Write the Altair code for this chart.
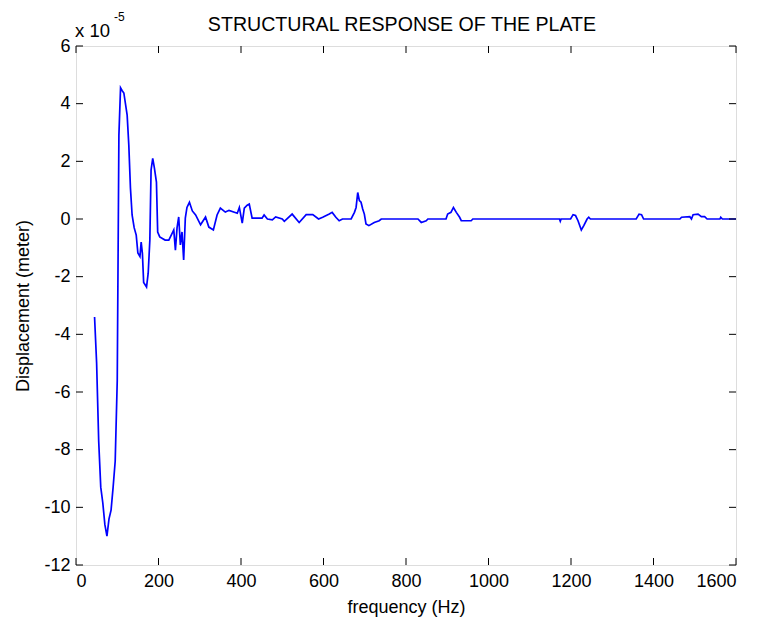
import altair as alt
import pandas as pd

# frequency (Hz) and displacement (x 1e-5 m)
freq = [45, 50, 55, 60, 65, 70, 75, 80, 85, 90, 95, 100, 104, 108, 112, 116, 124, 128,
        132, 136, 141, 146, 150, 155, 158, 161, 164, 171, 175, 179, 182, 186, 190, 195,
        198, 203, 216, 225, 233, 237, 241, 245, 249, 253, 257, 261, 265, 269, 275, 282,
        290, 302, 314, 322, 333, 342, 350, 362, 371, 391, 396, 403, 408, 415, 420, 427,
        451, 456, 464, 476, 484, 500, 505, 524, 541, 558, 574, 588, 598, 614, 621, 630,
        638, 646, 667, 675, 679, 683, 687, 691, 695, 699, 703, 710, 723, 735, 740, 829,
        837, 849, 853, 897, 901, 909, 915, 922, 930, 934, 958, 962, 1172, 1174, 1176,
        1199, 1205, 1211, 1217, 1225, 1231, 1239, 1243, 1247, 1358, 1365, 1371, 1376,
        1464, 1468, 1488, 1492, 1496, 1508, 1516, 1524, 1530, 1561, 1563, 1567, 1600]
disp = [-3.4, -5.0, -7.7, -9.3, -9.85, -10.6, -11.0, -10.4, -10.1, -9.3, -8.4, -5.6, 2.9,
        4.55, 4.45, 4.37, 3.6, 2.57, 1.07, 0.14, -0.3, -0.56, -1.18, -1.3, -0.8, -1.2,
        -2.2, -2.36, -1.88, -0.74, 1.7, 2.1, 1.77, 1.28, -0.45, -0.62, -0.73, -0.73,
        -0.5, -0.38, -1.08, -0.3, 0.07, -0.9, -0.45, -1.42, 0.03, 0.4, 0.58, 0.28, 0.14,
        -0.2, 0.07, -0.28, -0.38, 0.14, 0.38, 0.24, 0.3, 0.2, 0.4, -0.14, 0.38, 0.48,
        0.52, 0.03, 0.03, 0.14, 0.0, -0.03, 0.07, 0.0, -0.08, 0.17, -0.12, 0.15, 0.15,
        0.0, 0.06, 0.17, 0.23, 0.06, -0.06, 0.0, 0.0, 0.23, 0.4, 0.92, 0.64, 0.58, 0.35,
        0.17, -0.17, -0.23, -0.12, -0.06, 0.0, 0.0, -0.12, -0.06, 0.0, 0.0, 0.17, 0.23,
        0.4, 0.23, 0.06, -0.06, -0.06, 0.0, 0.0, -0.08, 0.0, 0.0, 0.15, 0.12, -0.06,
        -0.38, -0.23, 0.0, 0.06, 0.0, 0.0, 0.17, 0.15, 0.0, 0.0, 0.06, 0.08, 0.0, 0.15,
        0.17, 0.08, 0.08, 0.0, 0.0, 0.06, 0.0, 0.0]

x_ticks = [0, 200, 400, 600, 800, 1000, 1200, 1400, 1600]
y_ticks = [-12, -10, -8, -6, -4, -2, 0, 2, 4, 6]

title_text = ["STRUCTURAL RESPONSE OF THE PLATE"]
x_title = "frequency (Hz)"
y_title = "Displacement (meter)"
exp_base = ["x 10"]
exp_power = ["-5"]

W, H = 660, 519
FONT = "Liberation Sans"
LABEL_EXPR = "datum.value < 0 ? '-' + abs(datum.value) : '' + datum.value"

df = pd.DataFrame({"freq": freq, "disp": disp, "idx": list(range(len(freq)))})
xt = pd.DataFrame({"freq": x_ticks})
yt = pd.DataFrame({"disp": y_ticks})

xscale = alt.Scale(domain=[0, 1600], nice=False, zero=False)
yscale = alt.Scale(domain=[-12, 6], nice=False, zero=False)

x_axis = alt.Axis(values=x_ticks, title=x_title, ticks=False, domain=False,
                  grid=False, labelPadding=7, titlePadding=8, labelExpr=LABEL_EXPR,
                  labelFontSize=18, titleFontSize=18, labelFont=FONT,
                  titleFont=FONT, titleFontWeight="normal",
                  labelColor="black", titleColor="black")
y_axis = alt.Axis(values=y_ticks, title=y_title, ticks=False, domain=False,
                  grid=False, labelPadding=6, titlePadding=11, labelExpr=LABEL_EXPR,
                  labelFontSize=18, titleFontSize=18, labelFont=FONT,
                  titleFont=FONT, titleFontWeight="normal",
                  labelColor="black", titleColor="black")

line = alt.Chart(df).mark_line(color="#0000FF", strokeWidth=1.7).encode(
    x=alt.X("freq:Q", scale=xscale, axis=x_axis),
    y=alt.Y("disp:Q", scale=yscale, axis=y_axis),
    order="idx:Q",
)

tick_len = 7
bottom_ticks = alt.Chart(xt).mark_rule(color="black", strokeWidth=1).encode(
    x=alt.X("freq:Q", scale=xscale, axis=x_axis), y=alt.value(H), y2=alt.value(H - tick_len))
top_ticks = alt.Chart(xt).mark_rule(color="black", strokeWidth=1).encode(
    x=alt.X("freq:Q", scale=xscale, axis=x_axis), y=alt.value(0), y2=alt.value(tick_len))
left_ticks = alt.Chart(yt).mark_rule(color="black", strokeWidth=1).encode(
    y=alt.Y("disp:Q", scale=yscale, axis=y_axis), x=alt.value(0), x2=alt.value(tick_len))
right_ticks = alt.Chart(yt).mark_rule(color="black", strokeWidth=1).encode(
    y=alt.Y("disp:Q", scale=yscale, axis=y_axis), x=alt.value(W), x2=alt.value(W - tick_len))

title_txt = alt.Chart(pd.DataFrame({"t": title_text})).mark_text(
    align="center", baseline="alphabetic", font=FONT, fontSize=19.6, color="black"
).encode(text="t:N", x=alt.value(W / 2 - 4), y=alt.value(-15))
base_txt = alt.Chart(pd.DataFrame({"t": exp_base})).mark_text(
    align="left", baseline="alphabetic", font=FONT, fontSize=18.5, color="black"
).encode(text="t:N", x=alt.value(-1), y=alt.value(-9))
pow_txt = alt.Chart(pd.DataFrame({"t": exp_power})).mark_text(
    align="left", baseline="alphabetic", font=FONT, fontSize=12, color="black"
).encode(text="t:N", x=alt.value(38), y=alt.value(-25))

chart = alt.layer(
    line, bottom_ticks, top_ticks, left_ticks, right_ticks, title_txt, base_txt, pow_txt
).properties(
    width=W, height=H,
    autosize=alt.AutoSizeParams(type="none"),
    padding={"left": 68, "top": 38, "right": 10, "bottom": 56},
).configure_view(stroke="black", strokeWidth=1.2).configure(background="white")

chart.save("out.html", embed_options={"renderer": "svg", "actions": False})
